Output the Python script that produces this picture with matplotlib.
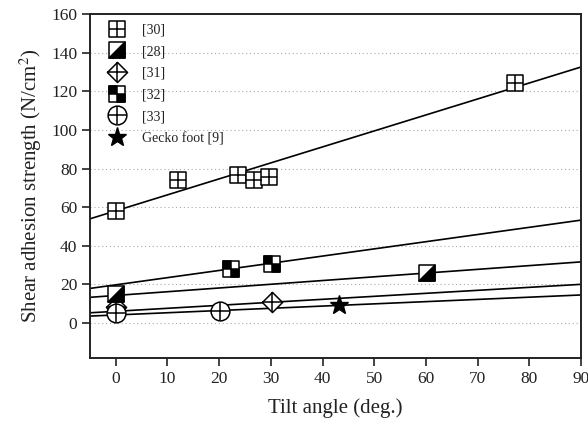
import matplotlib
matplotlib.use('Agg')
import matplotlib.pyplot as plt
import numpy as np
from matplotlib.path import Path

plt.rcParams['font.family'] = ['Liberation Serif', 'DejaVu Serif']
plt.rcParams['mathtext.fontset'] = 'stix'
plt.rcParams['text.color'] = '#222222'
plt.rcParams['axes.labelcolor'] = '#222222'
plt.rcParams['xtick.labelcolor'] = '#222222'
plt.rcParams['ytick.labelcolor'] = '#222222'

# data: (tilt angle, shear adhesion strength)
x30 = [0, 12, 23.7, 26.7, 29.7, 77.2]
y30 = [58, 74.3, 76.4, 74.3, 75.5, 124.2]
x28 = [0, 60.3]
y28 = [14.8, 25.8]
x31 = [0, 30.2]
y31 = [8.5, 11.0]
x32 = [22.2, 30.2]
y32 = [27.9, 30.8]
x33 = [0, 20.1]
y33 = [5.0, 6.4]
xgecko = [43.1]
ygecko = [9.6]

# fitted lines (intercept, slope)
fit_x = np.array([-5, 90])
fit_b = [58.1, 19.8, 14.3, 6.1, 4.2]
fit_m = [0.827, 0.372, 0.193, 0.155, 0.115]

# marker paths
sq = Path([(-1, -1), (1, -1), (1, 1), (-1, 1), (-1, -1)],
          [Path.MOVETO, Path.LINETO, Path.LINETO, Path.LINETO, Path.CLOSEPOLY])
plus = Path([(-1, 0), (1, 0), (0, -1), (0, 1)],
            [Path.MOVETO, Path.LINETO, Path.MOVETO, Path.LINETO])
tri = Path([(-1, -1), (1, -1), (1, 1), (-1, -1)],
           [Path.MOVETO, Path.LINETO, Path.LINETO, Path.CLOSEPOLY])
quads = Path([(-1, 0), (0, 0), (0, 1), (-1, 1), (-1, 0),
              (0, -1), (1, -1), (1, 0), (0, 0), (0, -1)],
             [Path.MOVETO, Path.LINETO, Path.LINETO, Path.LINETO, Path.CLOSEPOLY] * 2)
dia = Path([(0, 1), (1, 0), (0, -1), (-1, 0), (0, 1)],
           [Path.MOVETO, Path.LINETO, Path.LINETO, Path.LINETO, Path.CLOSEPOLY])

fig = plt.figure(figsize=(5.88, 4.23), dpi=100)
ax = fig.add_axes([0.153, 0.154, 0.835, 0.813])

for b, m in zip(fit_b, fit_m):
    ax.plot(fit_x, b + m * fit_x, color='black', lw=1.2, zorder=2)

ew = 1.1
kw = dict(ls='none', color='black', markeredgewidth=ew, zorder=3)

# [31] diamond with cross
h31a, = ax.plot(x31, y31, marker=dia, ms=14.5, mfc='white', mec='black', **kw)
h31b, = ax.plot(x31, y31, marker=plus, ms=14.5, mec='black', **kw)
# [33] circle with cross
h33a, = ax.plot(x33, y33, marker='o', ms=13.5, mfc='white', mec='black', **kw)
h33b, = ax.plot(x33, y33, marker=plus, ms=13.5, mec='black', **kw)
# [28] half-filled square
h28a, = ax.plot(x28, y28, marker=sq, ms=11, mfc='white', mec='black', **kw)
h28b, = ax.plot(x28, y28, marker=tri, ms=11, mfc='black', mec='black', **kw)
# [32] checkered square
h32a, = ax.plot(x32, y32, marker=sq, ms=11, mfc='white', mec='black', **kw)
h32b, = ax.plot(x32, y32, marker=quads, ms=11, mfc='black', mec='black', **kw)
# [30] square with cross
h30a, = ax.plot(x30, y30, marker=sq, ms=11, mfc='white', mec='black', **kw)
h30b, = ax.plot(x30, y30, marker=plus, ms=11, mec='black', **kw)
# gecko foot
hg, = ax.plot(xgecko, ygecko, marker='*', ms=14, mfc='black', mec='black',
              ls='none', zorder=3)

ax.legend([(h30a, h30b), (h28a, h28b), (h31a, h31b), (h32a, h32b),
           (h33a, h33b), hg],
          ['[30]', '[28]', '[31]', '[32]', '[33]', 'Gecko foot [9]'],
          loc='upper left', bbox_to_anchor=(0.018, 1.0), frameon=False,
          fontsize=10, handlelength=1.2, handletextpad=1.2,
          labelspacing=0.62, borderaxespad=0.3)

ax.set_xlim(-5, 90)
ax.set_ylim(-18, 160)
ax.set_xticks(range(0, 91, 10))
ax.set_yticks(range(0, 161, 20))
ax.yaxis.grid(True, linestyle=(0, (1, 2.5)), color='#aaaaaa', lw=0.8)
ax.set_axisbelow(True)

for s in ax.spines.values():
    s.set_linewidth(1.4)
    s.set_color('#222222')
ax.tick_params(direction='out', length=6, width=1.2, labelsize=12.5,
               color='#222222')
ax.tick_params(axis='y', pad=3)

ax.set_xlabel('Tilt angle (deg.)', fontsize=15, labelpad=8)
ax.set_ylabel(r'Shear adhesion strength (N/cm$^2$)', fontsize=15, labelpad=5)

fig.savefig('out.png', dpi=100)
